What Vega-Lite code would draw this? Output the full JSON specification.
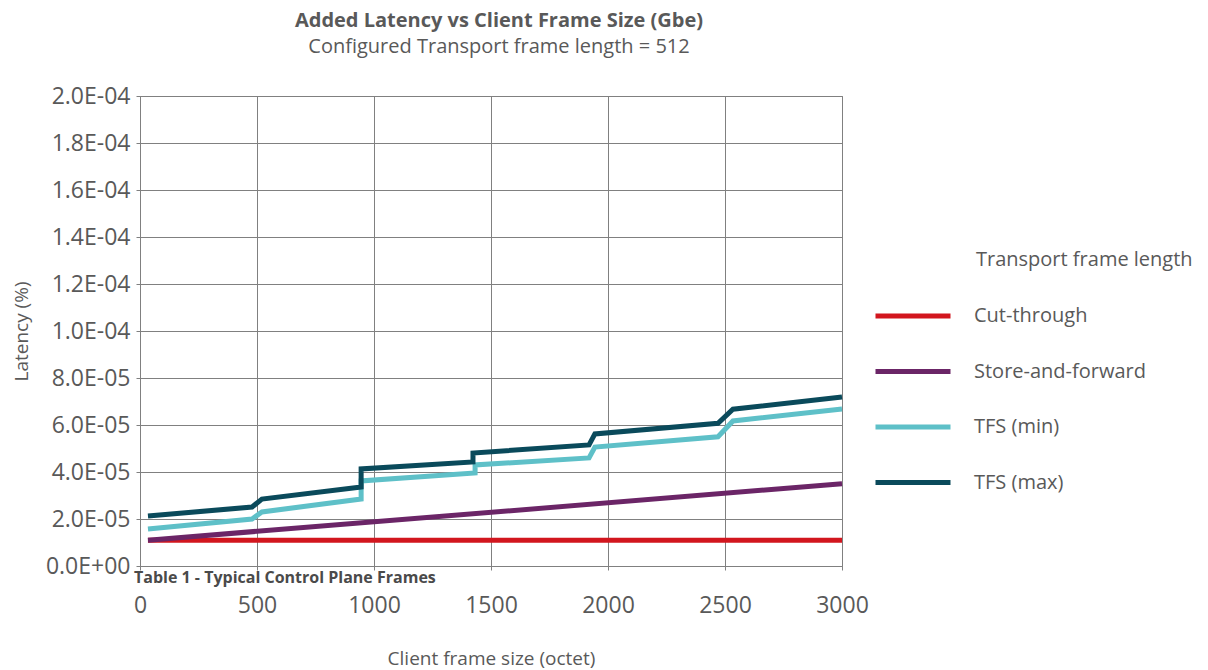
{
  "$schema": "https://vega.github.io/schema/vega-lite/v6.json",
  "width": 702,
  "height": 470,
  "autosize": {"type": "none"},
  "padding": {"left": 140, "top": 96, "right": 366, "bottom": 104},
  "background": "white",
  "config": {
    "font": "Open Sans",
    "view": {"stroke": "#808080", "strokeWidth": 1}
  },
  "title": {
    "text": "Added Latency vs Client Frame Size (Gbe)",
    "subtitle": "Configured Transport frame length = 512",
    "anchor": "middle",
    "fontSize": 20,
    "fontWeight": "bold",
    "color": "#595959",
    "subtitleFontSize": 20,
    "subtitleColor": "#595959",
    "subtitlePadding": 6,
    "offset": 28,
    "dx": 8
  },
  "data": {
    "values": [
      {"series": "Cut-through", "i": 0, "size": 34, "latency": 0.0000110},
      {"series": "Cut-through", "i": 1, "size": 3000, "latency": 0.0000110},
      {"series": "Store-and-forward", "i": 0, "size": 34, "latency": 0.0000110},
      {"series": "Store-and-forward", "i": 1, "size": 3000, "latency": 0.0000350},
      {"series": "TFS (min)", "i": 0, "size": 34, "latency": 0.0000157},
      {"series": "TFS (min)", "i": 1, "size": 479, "latency": 0.0000200},
      {"series": "TFS (min)", "i": 2, "size": 521, "latency": 0.0000230},
      {"series": "TFS (min)", "i": 3, "size": 945, "latency": 0.0000285},
      {"series": "TFS (min)", "i": 4, "size": 945, "latency": 0.0000362},
      {"series": "TFS (min)", "i": 5, "size": 1432, "latency": 0.0000396},
      {"series": "TFS (min)", "i": 6, "size": 1432, "latency": 0.0000430},
      {"series": "TFS (min)", "i": 7, "size": 1919, "latency": 0.0000460},
      {"series": "TFS (min)", "i": 8, "size": 1944, "latency": 0.0000506},
      {"series": "TFS (min)", "i": 9, "size": 2470, "latency": 0.0000550},
      {"series": "TFS (min)", "i": 10, "size": 2534, "latency": 0.0000617},
      {"series": "TFS (min)", "i": 11, "size": 3000, "latency": 0.0000668},
      {"series": "TFS (max)", "i": 0, "size": 34, "latency": 0.0000213},
      {"series": "TFS (max)", "i": 1, "size": 479, "latency": 0.0000251},
      {"series": "TFS (max)", "i": 2, "size": 521, "latency": 0.0000285},
      {"series": "TFS (max)", "i": 3, "size": 945, "latency": 0.0000336},
      {"series": "TFS (max)", "i": 4, "size": 945, "latency": 0.0000413},
      {"series": "TFS (max)", "i": 5, "size": 1423, "latency": 0.0000443},
      {"series": "TFS (max)", "i": 6, "size": 1423, "latency": 0.0000481},
      {"series": "TFS (max)", "i": 7, "size": 1919, "latency": 0.0000515},
      {"series": "TFS (max)", "i": 8, "size": 1944, "latency": 0.0000562},
      {"series": "TFS (max)", "i": 9, "size": 2470, "latency": 0.0000607},
      {"series": "TFS (max)", "i": 10, "size": 2534, "latency": 0.0000667},
      {"series": "TFS (max)", "i": 11, "size": 3000, "latency": 0.0000719}
    ]
  },
  "layer": [
    {
      "mark": {"type": "line", "strokeWidth": 5, "strokeJoin": "miter"},
      "encoding": {
        "x": {
          "field": "size",
          "type": "quantitative",
          "scale": {"domain": [0, 3000], "nice": false, "zero": true},
          "axis": {
            "title": "Client frame size (octet)",
            "values": [0, 500, 1000, 1500, 2000, 2500, 3000],
            "format": "d",
            "grid": true,
            "gridColor": "#808080",
            "gridOpacity": 1,
            "domainColor": "#808080",
            "tickColor": "#808080",
            "tickSize": 4,
            "labelFontSize": 23,
            "labelColor": "#595959",
            "labelPadding": 24,
            "labelFlush": false,
            "titleFontSize": 19,
            "titleFontWeight": "normal",
            "titleColor": "#595959",
            "titlePadding": 32
          }
        },
        "y": {
          "field": "latency",
          "type": "quantitative",
          "scale": {"domain": [0, 0.0002], "nice": false},
          "axis": {
            "title": "Latency (%)",
            "values": [0, 0.00002, 0.00004, 0.00006, 0.00008, 0.0001, 0.00012, 0.00014, 0.00016, 0.00018, 0.0002],
            "labelExpr": "datum.value == 0 ? '0.0E+00' : replace(format(datum.value, '.1e'), 'e-', 'E-0')",
            "grid": true,
            "gridColor": "#808080",
            "gridOpacity": 1,
            "domainColor": "#808080",
            "tickColor": "#808080",
            "tickSize": 4,
            "labelFontSize": 23,
            "labelColor": "#595959",
            "labelPadding": 6,
            "labelFlush": false,
            "titleFontSize": 19,
            "titleFontWeight": "normal",
            "titleColor": "#595959",
            "titlePadding": 14
          }
        },
        "order": {"field": "i", "type": "quantitative"},
        "color": {
          "field": "series",
          "type": "nominal",
          "scale": {
            "domain": ["Cut-through", "Store-and-forward", "TFS (min)", "TFS (max)"],
            "range": ["#D2161E", "#6B2567", "#5EC0C8", "#0A4A5B"]
          },
          "legend": {
            "orient": "none",
            "legendX": 836,
            "legendY": 154,
            "title": "Transport frame length",
            "titleFontSize": 20,
            "titleFontWeight": "normal",
            "titleColor": "#595959",
            "titlePadding": 6,
            "titleLimit": 400,
            "labelFontSize": 20,
            "labelColor": "#595959",
            "symbolType": "stroke",
            "symbolSize": 5625,
            "symbolStrokeWidth": 5,
            "symbolOffset": -103,
            "labelOffset": 21,
            "rowPadding": 5.5,
            "padding": 0,
            "labelLimit": 400
          }
        }
      }
    },
    {
      "data": {"values": [{"note": "Table 1 - Typical Control Plane Frames"}]},
      "mark": {
        "type": "text",
        "align": "left",
        "baseline": "middle",
        "dx": -6,
        "dy": 12,
        "fontSize": 16,
        "fontWeight": "bold",
        "color": "#4a4a4a"
      },
      "encoding": {
        "x": {"datum": 0, "type": "quantitative"},
        "y": {"datum": 0, "type": "quantitative"},
        "text": {"field": "note"}
      }
    }
  ]
}
